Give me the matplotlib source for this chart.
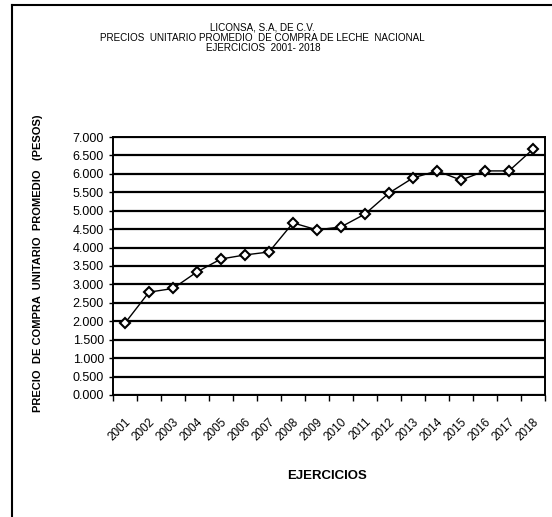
import matplotlib.pyplot as plt
import numpy as np

years = ["2001", "2002", "2003", "2004", "2005", "2006", "2007", "2008", "2009",
         "2010", "2011", "2012", "2013", "2014", "2015", "2016", "2017", "2018"]
prices = [1.95, 2.79, 2.89, 3.34, 3.69, 3.80, 3.88, 4.67, 4.48,
          4.56, 4.91, 5.48, 5.89, 6.08, 5.83, 6.08, 6.08, 6.67]
y_ticks = [i * 0.5 for i in range(15)]

plt.rcParams["font.family"] = ["Liberation Sans", "DejaVu Sans"]

fig = plt.figure(figsize=(5.52, 5.17), dpi=100)
ax = fig.add_axes([0.2047, 0.236, 0.7826, 0.499])

x = np.arange(len(years))
ax.plot(x, prices, color="black", linewidth=1, marker="D", markersize=5,
        markerfacecolor="white", markeredgecolor="black", markeredgewidth=1.5, zorder=3)

ax.set_xlim(-0.5, len(years) - 0.5)
ax.set_ylim(0, 7)
ax.set_yticks(y_ticks)
ax.set_yticklabels([f"{v:.3f}" for v in y_ticks], fontsize=9)
ax.yaxis.grid(True, color="black", linewidth=1.6)
ax.set_axisbelow(True)

ax.set_xticks(x)
ax.set_xticklabels(years, rotation=45, ha="right", rotation_mode="anchor", fontsize=8.5)
ax.tick_params(axis="x", length=0, pad=15)
ax.set_xticks(np.arange(-0.5, len(years)), minor=True)
ax.tick_params(axis="x", which="minor", length=4, direction="out", width=1)
ax.tick_params(axis="y", length=3, width=1)

for s in ax.spines.values():
    s.set_linewidth(1.4)

fig.text(0.476, 0.946, "LICONSA, S.A, DE C.V.", ha="center", va="center", fontsize=7.1)
fig.text(0.476, 0.927, "PRECIOS  UNITARIO PROMEDIO  DE COMPRA DE LECHE  NACIONAL",
         ha="center", va="center", fontsize=7.1)
fig.text(0.476, 0.908, "EJERCICIOS  2001- 2018", ha="center", va="center", fontsize=7.1)

fig.text(0.069, 0.49, "PRECIO  DE COMPRA  UNITARIO  PROMEDIO   (PESOS)",
         rotation=90, ha="center", va="center", fontsize=8, fontweight="bold")
fig.text(0.592, 0.079, "EJERCICIOS", ha="center", va="center",
         fontsize=9.5, fontweight="bold")

# frame from the original page
fig.add_artist(plt.Line2D([0.022, 0.022], [0, 0.99], color="black", linewidth=1.5))
fig.add_artist(plt.Line2D([0.022, 1], [0.99, 0.99], color="black", linewidth=1.5))

fig.savefig("out.png", dpi=100)
